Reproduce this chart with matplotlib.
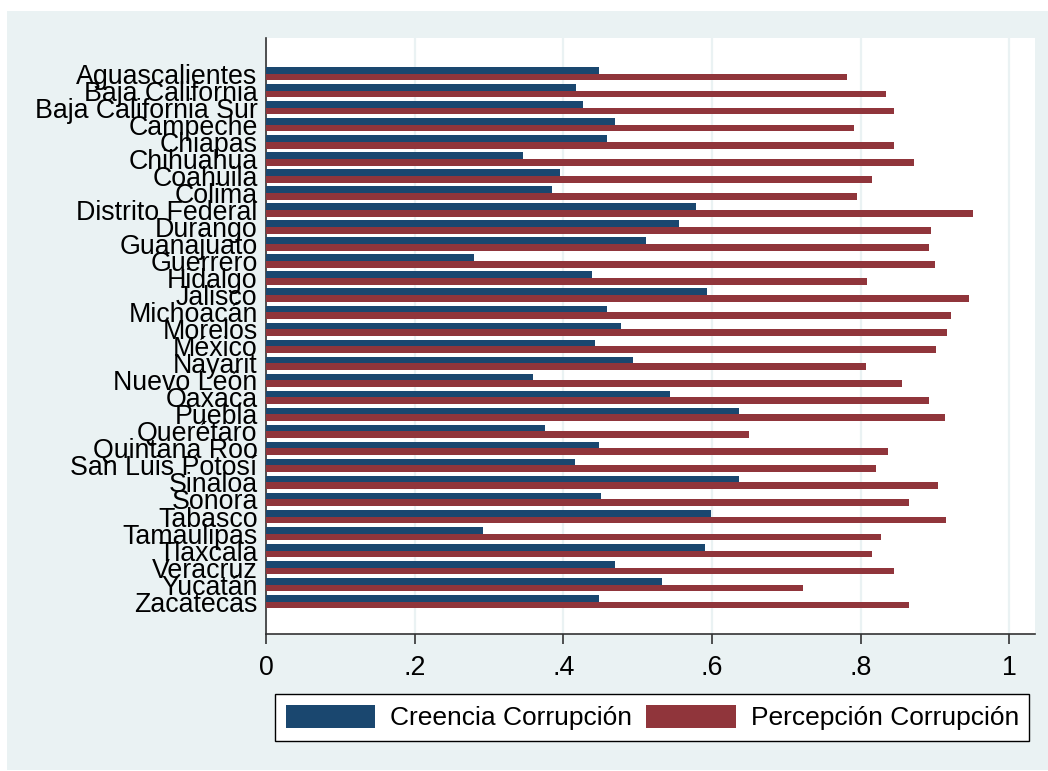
import matplotlib
matplotlib.use("Agg")
import matplotlib.pyplot as plt
from matplotlib.patches import Patch, Rectangle

plt.rcParams['font.family'] = ['Liberation Sans', 'DejaVu Sans']

# datos por estado
estados = ['Aguascalientes', 'Baja California', 'Baja California Sur', 'Campeche',
           'Chiapas', 'Chihuahua', 'Coahuila', 'Colima', 'Distrito Federal',
           'Durango', 'Guanajuato', 'Guerrero', 'Hidalgo', 'Jalisco', 'Michoacán',
           'Morelos', 'México', 'Nayarit', 'Nuevo León', 'Oaxaca', 'Puebla',
           'Querétaro', 'Quintana Roo', 'San Luis Potosí', 'Sinaloa', 'Sonora',
           'Tabasco', 'Tamaulipas', 'Tlaxcala', 'Veracruz', 'Yucatán', 'Zacatecas']

creencia = [0.448, 0.417, 0.426, 0.469, 0.459, 0.346, 0.395, 0.385, 0.578,
            0.555, 0.511, 0.280, 0.439, 0.593, 0.459, 0.478, 0.442, 0.493,
            0.359, 0.543, 0.636, 0.375, 0.448, 0.416, 0.636, 0.451, 0.598,
            0.292, 0.590, 0.469, 0.532, 0.448]

percepcion = [0.782, 0.834, 0.845, 0.791, 0.845, 0.872, 0.815, 0.795, 0.951,
              0.895, 0.892, 0.900, 0.809, 0.945, 0.921, 0.916, 0.901, 0.807,
              0.856, 0.892, 0.913, 0.649, 0.836, 0.821, 0.904, 0.865, 0.914,
              0.827, 0.815, 0.845, 0.722, 0.865]

x_ticks = [0, 0.2, 0.4, 0.6, 0.8, 1.0]
x_ticklabels = ['0', '.2', '.4', '.6', '.8', '1']

azul = '#1A476F'
rojo = '#90353B'
fondo = '#EAF2F3'

W, H = 1048, 771
fig = plt.figure(figsize=(W / 100, H / 100), dpi=100, facecolor='white')

# fondo estilo s2color (detras de todo)
fig.patches.append(Rectangle((7 / W, 1 / H), 1 - 7 / W, (H - 12) / H,
                             transform=fig.transFigure, facecolor=fondo,
                             edgecolor='none', zorder=-10))

ax = fig.add_axes([266 / W, 1 - 634 / H, (1035 - 266) / W, (634 - 38) / H])
ax.set_zorder(1)
ax.set_facecolor('white')

pos = list(range(len(estados)))
h = 0.39
ax.barh([p - h / 2 for p in pos], creencia, height=h, color=azul, zorder=3,
        label='Creencia Corrupción')
ax.barh([p + h / 2 for p in pos], percepcion, height=h, color=rojo, zorder=3,
        label='Percepción Corrupción')

ax.set_ylim(len(estados) - 1 + 1.90, -2.10)
ax.set_xlim(0, 1.0343)

ax.set_yticks(pos)
ax.set_yticklabels(estados, fontsize=19.3)
ax.tick_params(axis='y', length=0, pad=6)

ax.set_xticks(x_ticks)
ax.set_xticklabels(x_ticklabels, fontsize=19.3)
ax.tick_params(axis='x', length=7, width=1.2, pad=8, color='#333333')

ax.grid(axis='x', color=fondo, linewidth=1.6, zorder=0)
ax.set_axisbelow(True)

for s in ['top', 'right']:
    ax.spines[s].set_visible(False)
for s in ['left', 'bottom']:
    ax.spines[s].set_color('#333333')
    ax.spines[s].set_linewidth(1.2)

handles = [Patch(facecolor=azul), Patch(facecolor=rojo)]
leg = fig.legend(handles, ['Creencia Corrupción', 'Percepción Corrupción'],
                 ncol=2, loc='upper left',
                 bbox_to_anchor=(275 / W, 1 - 694 / H), borderaxespad=0,
                 fontsize=19, handlelength=3.4, handleheight=1.0,
                 handletextpad=0.55, columnspacing=0.55, borderpad=0.4,
                 frameon=True, fancybox=False, edgecolor='black',
                 facecolor='white', framealpha=1)
leg.get_frame().set_linewidth(1.0)

fig.savefig('out.png', dpi=100, facecolor='white')
